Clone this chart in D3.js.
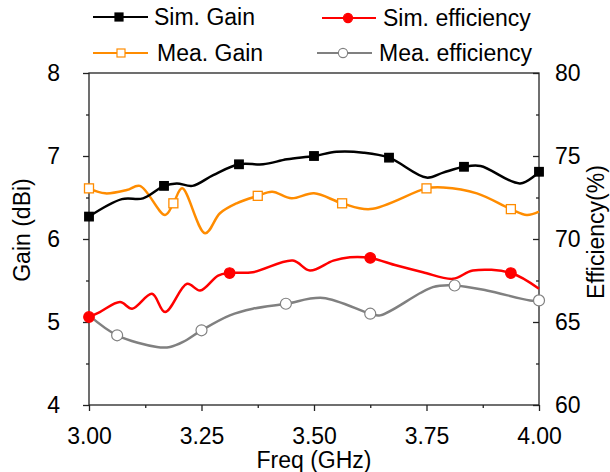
<!DOCTYPE html>
<html><head><meta charset="utf-8">
<script src="https://cdn.jsdelivr.net/npm/d3@7"></script>
<style>
body{margin:0;background:#fff}
svg{display:block}
text{font-family:"Liberation Sans",Arial,Helvetica,sans-serif;fill:#000}
</style>
</head><body>
<svg id="c" width="610" height="472"></svg>
<script>
// ---------- data ----------
const xTicks = [3.00, 3.25, 3.50, 3.75, 4.00];
const xMinorTicks = [3.125, 3.375, 3.625, 3.875];
const gainTicks = [4, 5, 6, 7, 8];
const gainMinorTicks = [4.5, 5.5, 6.5, 7.5];
const effTicks = [60, 65, 70, 75, 80];
const effMinorTicks = [62.5, 67.5, 72.5, 77.5];

const seriesNames = ["Sim. Gain", "Sim. efficiency", "Mea. Gain", "Mea. efficiency"];

const simGainFreq = [3.0, 3.073, 3.12, 3.1667, 3.195, 3.23, 3.276, 3.3333, 3.387, 3.44, 3.5, 3.55, 3.61, 3.6667, 3.75, 3.787, 3.8333, 3.87, 3.958, 4.0];
const simGainVal  = [6.27, 6.48, 6.49, 6.64, 6.67, 6.64, 6.77, 6.90, 6.90, 6.96, 7.00, 7.05, 7.04, 6.98, 6.74, 6.80, 6.87, 6.88, 6.67, 6.81];
const simGainMarkFreq = [3.0, 3.1667, 3.3333, 3.5, 3.6667, 3.8333, 4.0];
const simGainMarkVal  = [6.27, 6.64, 6.90, 7.00, 6.98, 6.87, 6.81];

const meaGainFreq = [3.0, 3.036, 3.084, 3.113, 3.169, 3.1875, 3.207, 3.258, 3.291, 3.328, 3.375, 3.407, 3.45, 3.5, 3.5625, 3.625, 3.75, 3.787, 3.862, 3.9375, 3.973, 4.0];
const meaGainVal  = [6.61, 6.55, 6.59, 6.64, 6.29, 6.43, 6.61, 6.07, 6.31, 6.43, 6.52, 6.57, 6.49, 6.55, 6.43, 6.36, 6.61, 6.62, 6.55, 6.36, 6.29, 6.33];
const meaGainMarkFreq = [3.0, 3.1875, 3.375, 3.5625, 3.75, 3.9375];
const meaGainMarkVal  = [6.61, 6.43, 6.52, 6.43, 6.61, 6.36];

const simEffFreq = [3.0, 3.024, 3.069, 3.096, 3.14, 3.169, 3.218, 3.247, 3.287, 3.3125, 3.364, 3.453, 3.491, 3.543, 3.58, 3.625, 3.684, 3.742, 3.809, 3.853, 3.9375, 4.0];
const simEffVal  = [65.3, 65.6, 66.2, 65.8, 66.7, 65.6, 67.3, 66.9, 67.8, 67.95, 68.0, 68.7, 68.1, 68.7, 68.9, 68.86, 68.4, 68.0, 67.6, 68.1, 67.95, 67.0];
const simEffMarkFreq = [3.0, 3.3125, 3.625, 3.9375];
const simEffMarkVal  = [65.3, 67.95, 68.86, 67.95];

const meaEffFreq = [3.0, 3.0625, 3.151, 3.18, 3.209, 3.25, 3.313, 3.364, 3.4375, 3.52, 3.625, 3.647, 3.764, 3.8125, 3.884, 3.98, 4.0];
const meaEffVal  = [65.4, 64.2, 63.5, 63.5, 63.8, 64.5, 65.4, 65.8, 66.1, 66.45, 65.5, 65.4, 67.1, 67.2, 66.9, 66.3, 66.3];
const meaEffMarkFreq = [3.0625, 3.25, 3.4375, 3.625, 3.8125, 4.0];
const meaEffMarkVal  = [64.2, 64.5, 66.1, 65.5, 67.2, 66.3];

// ---------- layout ----------
const W = 610, H = 472;
const L = 89, R = 539, T = 73, B = 405;
const FS = 23;

const svg = d3.select("#c");
const x = d3.scaleLinear().domain([3, 4]).range([L, R]);
const yG = d3.scaleLinear().domain([4, 8]).range([B, T]);
const yE = d3.scaleLinear().domain([60, 80]).range([B, T]);

const zip = (a, b) => a.map((v, i) => [v, b[i]]);

// axes
function styleAxis(g) {
  g.select(".domain").remove();
  g.selectAll(".tick line").attr("stroke", "#222").attr("stroke-width", 1.3);
  g.selectAll(".tick text").attr("font-size", FS).attr("font-family", '"Liberation Sans",Arial,sans-serif').attr("fill", "#000");
}
svg.append("g").attr("transform", `translate(0,${B})`)
  .call(d3.axisBottom(x).tickValues(xTicks).tickFormat(d3.format(".2f")).tickSize(6).tickPadding(17))
  .call(styleAxis);
svg.append("g").attr("transform", `translate(0,${B})`)
  .call(d3.axisBottom(x).tickValues(xMinorTicks).tickFormat("").tickSize(3))
  .call(styleAxis);
svg.append("g").attr("transform", `translate(${L},0)`)
  .call(d3.axisLeft(yG).tickValues(gainTicks).tickFormat(d3.format("d")).tickSize(6).tickPadding(23))
  .call(styleAxis);
svg.append("g").attr("transform", `translate(${L},0)`)
  .call(d3.axisLeft(yG).tickValues(gainMinorTicks).tickFormat("").tickSize(3))
  .call(styleAxis);
svg.append("g").attr("transform", `translate(${R},0)`)
  .call(d3.axisRight(yE).tickValues(effTicks).tickFormat(d3.format("d")).tickSize(-6).tickPadding(16))
  .call(styleAxis);
svg.append("g").attr("transform", `translate(${R},0)`)
  .call(d3.axisRight(yE).tickValues(effMinorTicks).tickFormat("").tickSize(-3))
  .call(styleAxis);

// frame
svg.append("rect").attr("x", L).attr("y", T).attr("width", R - L).attr("height", B - T)
  .attr("fill", "none").attr("stroke", "#222").attr("stroke-width", 1.3);

// titles
svg.append("text").attr("x", 314).attr("y", 468).attr("text-anchor", "middle").attr("font-size", FS).text("Freq (GHz)");
svg.append("text").attr("transform", "translate(30,230) rotate(-90)").attr("text-anchor", "middle").attr("font-size", FS).text("Gain (dBi)");
svg.append("text").attr("transform", "translate(604,232) rotate(-90)").attr("text-anchor", "middle").attr("font-size", FS).text("Efficiency(%)");

// lines
const line = (ys) => d3.line().x(d => x(d[0])).y(d => ys(d[1])).curve(d3.curveCatmullRom.alpha(0.5));
const colors = { simG: "#000000", meaG: "#ff8c00", simE: "#ff0000", meaE: "#808080" };

svg.append("path").datum(zip(meaGainFreq, meaGainVal)).attr("d", line(yG)).attr("fill", "none").attr("stroke", colors.meaG).attr("stroke-width", 2.5);
svg.append("path").datum(zip(simGainFreq, simGainVal)).attr("d", line(yG)).attr("fill", "none").attr("stroke", colors.simG).attr("stroke-width", 2.5);
svg.append("path").datum(zip(meaEffFreq, meaEffVal)).attr("d", line(yE)).attr("fill", "none").attr("stroke", colors.meaE).attr("stroke-width", 2.5);
svg.append("path").datum(zip(simEffFreq, simEffVal)).attr("d", line(yE)).attr("fill", "none").attr("stroke", colors.simE).attr("stroke-width", 2.5);

// markers
function squares(data, ys, fill, stroke, s) {
  svg.append("g").selectAll("rect").data(data).join("rect")
    .attr("x", d => x(d[0]) - s / 2).attr("y", d => ys(d[1]) - s / 2)
    .attr("width", s).attr("height", s)
    .attr("fill", fill).attr("stroke", stroke).attr("stroke-width", 1.3);
}
function circles(data, ys, fill, stroke, r) {
  svg.append("g").selectAll("circle").data(data).join("circle")
    .attr("cx", d => x(d[0])).attr("cy", d => ys(d[1])).attr("r", r)
    .attr("fill", fill).attr("stroke", stroke).attr("stroke-width", 1.2);
}
squares(zip(meaGainMarkFreq, meaGainMarkVal), yG, "#fff", colors.meaG, 9);
squares(zip(simGainMarkFreq, simGainMarkVal), yG, colors.simG, colors.simG, 8.5);
circles(zip(meaEffMarkFreq, meaEffMarkVal), yE, "#fff", colors.meaE, 5.5);
circles(zip(simEffMarkFreq, simEffMarkVal), yE, colors.simE, colors.simE, 5.3);

// legend
const leg = [
  { name: seriesNames[0], c: colors.simG, shape: "sq", fill: colors.simG, x1: 93, x2: 148, mx: 119, y: 17, tx: 154 },
  { name: seriesNames[1], c: colors.simE, shape: "ci", fill: colors.simE, x1: 322, x2: 376, mx: 348, y: 18, tx: 383 },
  { name: seriesNames[2], c: colors.meaG, shape: "sq", fill: "#fff", x1: 93, x2: 148, mx: 121, y: 53, tx: 157 },
  { name: seriesNames[3], c: colors.meaE, shape: "ci", fill: "#fff", x1: 317, x2: 372, mx: 343, y: 53, tx: 379 }
];
const lg = svg.append("g");
leg.forEach(d => {
  lg.append("line").attr("x1", d.x1).attr("x2", d.x2).attr("y1", d.y).attr("y2", d.y).attr("stroke", d.c).attr("stroke-width", 2.2);
  if (d.shape === "sq") {
    lg.append("rect").attr("x", d.mx - 4).attr("y", d.y - 4).attr("width", 8).attr("height", 8).attr("fill", d.fill).attr("stroke", d.c).attr("stroke-width", 1.2);
  } else {
    lg.append("circle").attr("cx", d.mx).attr("cy", d.y).attr("r", 4.6).attr("fill", d.fill).attr("stroke", d.c).attr("stroke-width", 1.1);
  }
  lg.append("text").attr("x", d.tx).attr("y", d.y + 8).attr("font-size", FS).text(d.name);
});
</script>
</body></html>
